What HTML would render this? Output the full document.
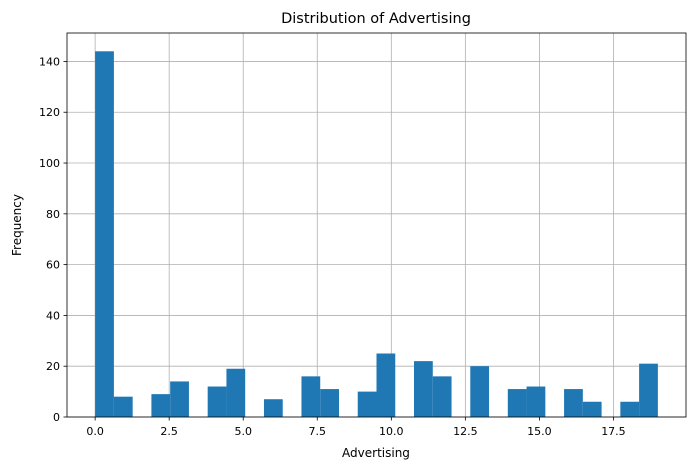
<!DOCTYPE html>
<html><head><meta charset="utf-8"><style>
body{margin:0;background:#fff;}
svg text{font-family:"DejaVu Sans","Liberation Sans",sans-serif;fill:#000;}
</style></head><body>
<svg id="chart" width="695" height="470" xmlns="http://www.w3.org/2000/svg">
<rect width="695" height="470" fill="#fff"/>
<text x="376" y="23" font-size="14.5" text-anchor="middle">Distribution of Advertising</text>
<g id="grid"></g>
<g id="bars"></g>
<g id="axes"></g>
<text x="376" y="457" font-size="12" text-anchor="middle">Advertising</text>
<text x="21" y="225" font-size="12" text-anchor="middle" transform="rotate(-90 21 225)">Frequency</text>
</svg>
<script>
const binStart = 0;
const binEnd = 19;
const counts = [144,8,0,9,14,0,12,19,0,7,0,16,11,0,10,25,0,22,16,0,20,0,11,12,0,11,6,0,6,21];
const xTicks = [0,2.5,5,7.5,10,12.5,15,17.5];
const xTickLabels = ["0.0","2.5","5.0","7.5","10.0","12.5","15.0","17.5"];
const yTicks = [0,20,40,60,80,100,120,140];

const L=67,R=686,T=33,B=417;
const xmin=-0.95,xmax=19.95,ymax=151.2;
const sx=v=>L+(v-xmin)/(xmax-xmin)*(R-L);
const sy=v=>B-v/ymax*(B-T);
const NS="http://www.w3.org/2000/svg";
function mk(tag,attrs,parent){const e=document.createElementNS(NS,tag);for(const k in attrs)e.setAttribute(k,attrs[k]);parent.appendChild(e);return e;}
const grid=document.getElementById('grid'),bars=document.getElementById('bars'),axes=document.getElementById('axes');
xTicks.forEach((t,i)=>{
  const x=sx(t);
  const g=mk('line',{x1:x,x2:x,y1:T,y2:B,stroke:'#b0b0b0','stroke-width':0.8},grid);
  
  
  const tk=mk('line',{x1:x,x2:x,y1:B,y2:B+3.5,stroke:'#000','stroke-width':0.8},axes);
  
  
  const tx=mk('text',{x:x,y:B+18,'font-size':11,'text-anchor':'middle'},axes);
  tx.textContent=xTickLabels[i];
  
  
});
yTicks.forEach(t=>{
  const y=sy(t);
  const g=mk('line',{x1:L,x2:R,y1:y,y2:y,stroke:'#b0b0b0','stroke-width':0.8},grid);
  
  
  const tk=mk('line',{x1:L-3.5,x2:L,y1:y,y2:y,stroke:'#000','stroke-width':0.8},axes);
  
  
  const tx=mk('text',{x:L-7,y:y+4,'font-size':11,'text-anchor':'end'},axes);
  tx.textContent=String(t);
  
  
});
const w=(binEnd-binStart)/counts.length;
counts.forEach((c,i)=>{
  if(!c)return;
  const x0=sx(binStart+i*w),x1=sx(binStart+(i+1)*w);
  const r=mk('rect',{x:x0,y:sy(c),width:x1-x0,height:B-sy(c),fill:'#1f77b4'},bars);
  
  
});
const f=mk('rect',{x:L,y:T,width:R-L,height:B-T,fill:'none',stroke:'#000','stroke-width':0.8},axes);


</script>
</body></html>
